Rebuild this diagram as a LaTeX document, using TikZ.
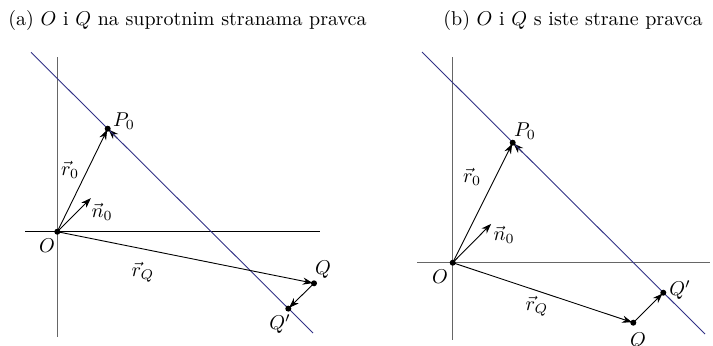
\documentclass[tikz,border=0pt]{standalone}
\usetikzlibrary{arrows.meta,calc}
\definecolor{lineblue}{RGB}{50,50,135}
\begin{document}
\begin{tikzpicture}[x=0.5pt,y=-0.5pt,
  vec/.style={-{Stealth[length=5pt,width=3.6pt]},line width=0.45pt,black,shorten >=0.6pt},
  axisv/.style={line width=0.6pt,black!60},
  axish/.style={line width=0.5pt,black},
  lline/.style={line width=0.45pt,lineblue},
  dotpt/.style={circle,fill=black,inner sep=0pt,minimum size=3pt},
  lbl/.style={inner sep=0pt}]
\useasboundingbox (0,0) rectangle (713,345);
% titles
\node[lbl,anchor=base west] (ta) at (8,25) {(a) $O$ i $Q$ na suprotnim stranama pravca};
\node[lbl,anchor=base west] (tb) at (443,25) {(b) $O$ i $Q$ s iste strane pravca};
% ---------- panel (a)
\coordinate (aO) at (57.3,231.7);
\coordinate (aP) at (107.7,128.7);
\coordinate (aN) at (91.7,197.3);
\coordinate (aQ) at (314,283.3);
\coordinate (aQp) at (288.3,308.6);
\coordinate (aT) at ($(aP)!7pt!(aQp)$);
\coordinate (aVt) at (57.3,57);
\coordinate (aVb) at (57.3,337);
\coordinate (aHl) at (25,231.7);
\coordinate (aHr) at (320,231.7);
\coordinate (aL1) at (31,52.3);
\coordinate (aL2) at (313,333);
\draw[axisv] (aVt) -- (aVb);
\draw[axish] (aHl) -- (aHr);
\draw[vec] (aT) -- (aP);
\draw[lline] (aL1) -- (aL2);
\draw[vec] (aO) -- (aP);
\draw[vec] (aO) -- (aN);
\draw[vec] (aO) -- (aQ);
\draw[vec] (aQ) -- (aQp);
\node[dotpt] (aOd) at (aO) {};
\node[dotpt] (aPd) at (aP) {};
\node[dotpt] (aQd) at (aQ) {};
\node[dotpt] (aQpd) at (aQp) {};
\node[lbl] (laP) at (124,121) {$P_0$};
\node[lbl] (lar) at (70,170) {$\vec r_0$};
\node[lbl] (lan) at (102,212) {$\vec n_0$};
\node[lbl] (laO) at (47,246) {$O$};
\node[lbl] (larQ) at (143,272) {$\vec r_Q$};
\node[lbl] (laQ) at (323,270) {$Q$};
\node[lbl] (laQp) at (280,324) {$Q'$};
% ---------- panel (b)
\coordinate (bO) at (452.7,262.7);
\coordinate (bP) at (512.7,142.7);
\coordinate (bN) at (492,223);
\coordinate (bQ) at (633.3,322.7);
\coordinate (bQp) at (663.3,292.7);
\coordinate (bT) at ($(bP)!7pt!(bQp)$);
\coordinate (bVt) at (452.7,57);
\coordinate (bVb) at (452.7,340);
\coordinate (bHl) at (417,262.7);
\coordinate (bHr) at (710,262.7);
\coordinate (bL1) at (422,52);
\coordinate (bL2) at (705,334);
\draw[axisv] (bVt) -- (bVb);
\draw[axisv] (bHl) -- (bHr);
\draw[vec] (bT) -- (bP);
\draw[lline] (bL1) -- (bL2);
\draw[vec] (bO) -- (bP);
\draw[vec] (bO) -- (bN);
\draw[vec] (bO) -- (bQ);
\draw[vec] (bQ) -- (bQp);
\node[dotpt] (bOd) at (bO) {};
\node[dotpt] (bPd) at (bP) {};
\node[dotpt] (bQd) at (bQ) {};
\node[dotpt] (bQpd) at (bQp) {};
\node[lbl] (lbP) at (525,131) {$P_0$};
\node[lbl] (lbr) at (472,177) {$\vec r_0$};
\node[lbl] (lbn) at (504,235) {$\vec n_0$};
\node[lbl] (lbO) at (440,277) {$O$};
\node[lbl] (lbrQ) at (537,306) {$\vec r_Q$};
\node[lbl] (lbQ) at (638,342) {$Q$};
\node[lbl] (lbQp) at (680,290) {$Q'$};
\end{tikzpicture}
\end{document}
